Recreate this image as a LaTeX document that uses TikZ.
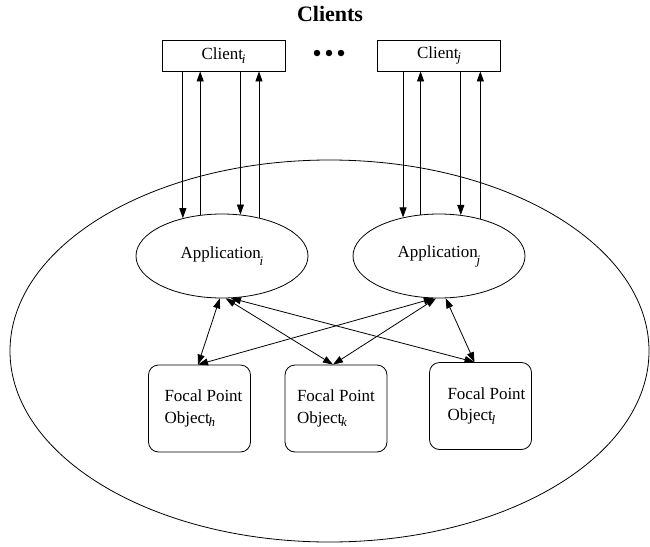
\documentclass[tikz,border=0pt]{standalone}
\usepackage{fontspec}
\setmainfont{Liberation Serif}
\usetikzlibrary{arrows.meta,shapes.geometric}
\newcommand\subsc[2][-3.5pt]{\kern-1.2pt\raisebox{#1}{\fontsize{13}{13}\selectfont\itshape #2}}
\begin{document}
\begin{tikzpicture}[x=1pt,y=-1pt,line width=0.8pt,
  every node/.style={font=\fontsize{17}{21.5}\selectfont},
  clientbox/.style={draw, minimum width=123pt, minimum height=31pt, inner sep=0pt},
  appell/.style={draw, ellipse, minimum width=172pt, minimum height=84pt, inner sep=0pt},
  worldell/.style={draw, ellipse, minimum width=639pt, minimum height=382pt, inner sep=0pt},
  fpbox/.style={draw, rounded corners=10pt, minimum width=102pt, minimum height=87pt, align=left, inner sep=0pt},
  dotnode/.style={circle, fill, minimum size=6.5pt, inner sep=0pt},
  arr/.style={-{Triangle[length=10pt,width=7pt]}},
  barr/.style={{Triangle[length=10pt,width=7pt]}-{Triangle[length=10pt,width=7pt]}}]
\useasboundingbox (0,0) rectangle (650,546);

\node[font=\bfseries\fontsize{22}{22}\selectfont] (title) at (330,14) {Clients};

\node[clientbox] (ci) at (223.5,55.5) {Client\subsc{i}};
\node[clientbox] (cj) at (439,55.5) {Client\subsc{j}};
\node[dotnode] (d1) at (317,53) {};
\node[dotnode] (d2) at (329,53) {};
\node[dotnode] (d3) at (341,53) {};

\node[worldell] (world) at (329.5,351) {};

\node[appell] (ai) at (222,256) {Application\subsc[-7pt]{i}};
\node[appell] (aj) at (439,256) {Application\subsc[-7pt]{j}};

\node[fpbox] (fh) at (199.5,408.5) {\hspace*{8pt}Focal Point\\\hspace*{8pt}Object\subsc{h}};
\node[fpbox] (fk) at (336,408.5) {Focal Point\\Object\subsc{k}};
\node[fpbox] (fl) at (480.5,406) {\hspace*{12pt}Focal Point\\\hspace*{12pt}Object\subsc{l}};

% client i <-> application i
\draw[arr] (ci.south -| ai.136.2) -- (ai.136.2);
\draw[arr] (ai.118.45) -- (ai.118.45 |- ci.south);
\draw[arr] (ci.south -| ai.66.3) -- (ai.66.3);
\draw[arr] (ai.46.6) -- (ai.46.6 |- ci.south);

% client j <-> application j
\draw[arr] (cj.south -| aj.133.4) -- (aj.133.4);
\draw[arr] (aj.114.9) -- (aj.114.9 |- cj.south);
\draw[arr] (cj.south -| aj.62.7) -- (aj.62.7);
\draw[arr] (aj.42.9) -- (aj.42.9 |- cj.south);

% applications <-> focal point objects
\draw[barr] (ai.-93) -- ([xshift=-1.5pt]fh.north);
\draw[barr] (ai.-85) -- ([xshift=-3pt]fk.north);
\draw[barr] (ai.-78) -- ([xshift=-6pt]fl.north);
\draw[barr] (aj.-97) -- ([xshift=-1.5pt]fh.north);
\draw[barr] (aj.-94) -- ([xshift=-3pt]fk.north);
\draw[barr] (aj.-81) -- ([xshift=-6pt]fl.north);
\end{tikzpicture}
\end{document}
